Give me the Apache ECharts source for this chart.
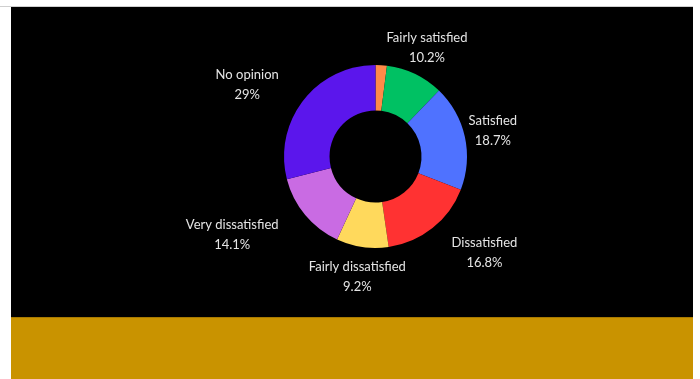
<!DOCTYPE html>
<html>
<head>
<meta charset="utf-8">
<script src="https://cdn.jsdelivr.net/npm/echarts@6/dist/echarts.min.js"></script>
<style>
  html, body { margin: 0; padding: 0; background: #fff; }
  #chart { width: 700px; height: 379px; }
</style>
</head>
<body>
<div id="chart"></div>
<script>
// satisfaction survey, share of answers (%)
const categories = ['Other', 'Fairly satisfied', 'Satisfied', 'Dissatisfied', 'Fairly dissatisfied', 'Very dissatisfied', 'No opinion']
const values = [2.0, 10.2, 18.7, 16.8, 9.2, 14.1, 29]
const valueLabels = ['', '10.2%', '18.7%', '16.8%', '9.2%', '14.1%', '29%']

const colors = ['#ff8a48', '#00c163', '#4f72ff', '#ff3232', '#ffd95c', '#c96be3', '#5b16ec']
// nudges that move each label from its default outside spot to where it sits in the picture
const labelNudge = [[0, 0], [7, -26], [23, -6], [47, 25], [0, 30], [-68, 20], [-51, -16]]

const chart = echarts.init(document.getElementById('chart'), null, { renderer: 'canvas' })

chart.setOption({
  backgroundColor: '#ffffff',
  animation: false,
  graphic: [
    { type: 'rect', shape: { x: 0, y: 6, width: 693, height: 1 }, style: { fill: '#cfcfcf' }, z: -10 },
    { type: 'rect', shape: { x: 11, y: 7, width: 682, height: 311 }, style: { fill: '#000000' }, z: -10 },
    { type: 'rect', shape: { x: 11, y: 318, width: 682, height: 61 }, style: { fill: '#c99300' }, z: -10 },
    { type: 'rect', shape: { x: 11, y: 317, width: 682, height: 1 }, style: { fill: '#a87a00' }, z: -9 },
  ],
  series: [
    {
      type: 'pie',
      center: [375.5, 156.5],
      radius: [46, 91.5],
      startAngle: 90,
      clockwise: true,
      avoidLabelOverlap: false,
      silent: true,
      itemStyle: { borderWidth: 0 },
      label: {
        show: true,
        position: 'outside',
        color: '#e4e4e4',
        fontFamily: 'Lato',
        fontSize: 13,
        lineHeight: 20,
        formatter: p => p.dataIndex === 0 ? '' : p.name + '\n' + valueLabels[p.dataIndex],
      },
      labelLine: { show: false, length: 0, length2: 0 },
      labelLayout: p => ({
        align: 'center',
        verticalAlign: 'middle',
        dx: labelNudge[p.dataIndex][0],
        dy: labelNudge[p.dataIndex][1],
      }),
      data: categories.map((name, i) => ({
        name,
        value: values[i],
        itemStyle: { color: colors[i] },
      })),
    },
  ],
})
</script>
</body>
</html>
